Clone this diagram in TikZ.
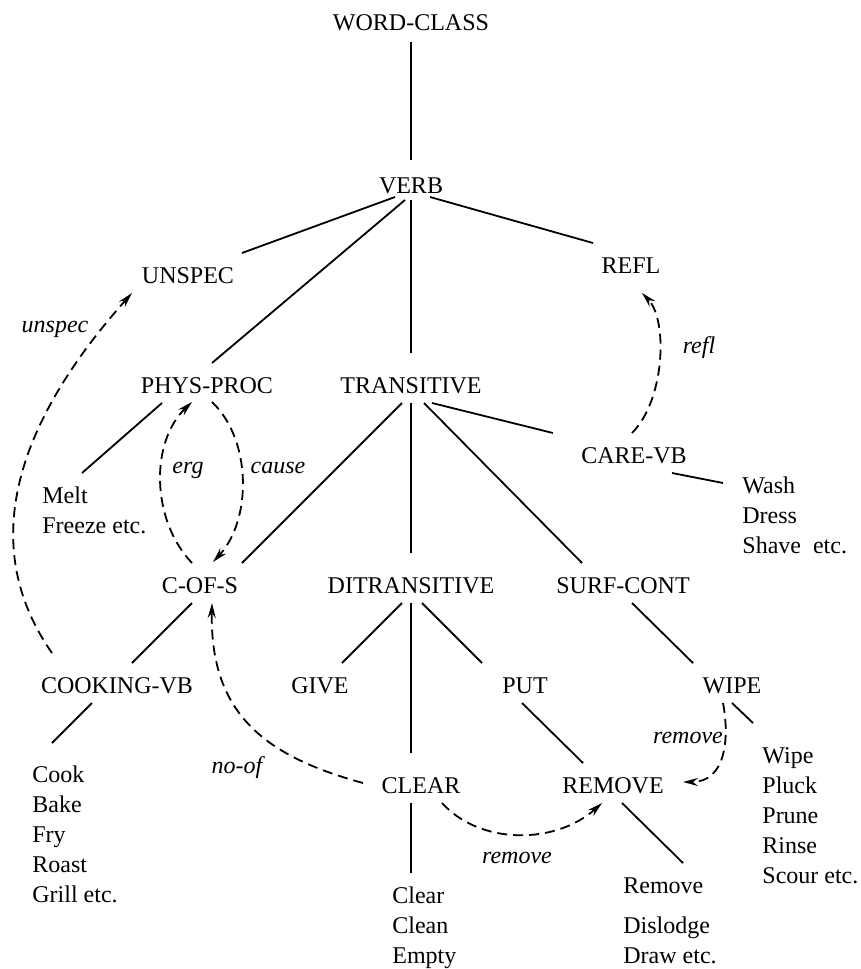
\documentclass[tikz,border=0pt]{standalone}
\usepackage{fontspec}
\setmainfont{Liberation Serif}
\usetikzlibrary{arrows.meta,calc}
\begin{document}
\begin{tikzpicture}[x=0.5pt,y=-0.5pt,
  cls/.style={font=\fontsize{12}{15}\selectfont, inner sep=0pt, anchor=base},
  item/.style={font=\fontsize{12}{15}\selectfont, inner sep=0pt, anchor=base west},
  rel/.style={font=\fontsize{12}{15}\selectfont\itshape, inner sep=0pt, anchor=base},
  edge/.style={line width=0.9pt},
  link/.style={line width=0.9pt, dash pattern=on 5pt off 3pt,
    -{Stealth[open,length=7.5pt,width=4pt,inset=2.5pt]}}]
\useasboundingbox (0,0) rectangle (861,969);

% class nodes
\node[cls] (wc) at (411,31) {WORD-CLASS};
\node[cls] (verb) at (411,193) {VERB};
\node[cls] (unspec) at (188,283) {UNSPEC};
\node[cls] (refl) at (631,273) {REFL};
\node[cls] (phys) at (207,393) {PHYS-PROC};
\node[cls] (trans) at (411,393) {TRANSITIVE};
\node[cls] (care) at (634,463) {CARE-VB};
\node[cls] (cofs) at (200,593) {C-OF-S};
\node[cls] (ditr) at (411,593) {DITRANSITIVE};
\node[cls] (surf) at (623,593) {SURF-CONT};
\node[cls] (cook) at (117,693) {COOKING-VB};
\node[cls] (give) at (320,693) {GIVE};
\node[cls] (put) at (525,693) {PUT};
\node[cls] (wipe) at (732,693) {WIPE};
\node[cls] (clear) at (421,793) {CLEAR};
\node[cls] (remove) at (613,793) {REMOVE};

% word lists
\node[item] (melt1) at (42,503) {Melt};
\node[item] (melt2) at (42,533) {Freeze etc.};
\node[item] (wash1) at (742,493) {Wash};
\node[item] (wash2) at (742,523) {Dress};
\node[item] (wash3) at (742,553) {Shave~~etc.};
\node[item] (cook1) at (32,782) {Cook};
\node[item] (cook2) at (32,812) {Bake};
\node[item] (cook3) at (32,842) {Fry};
\node[item] (cook4) at (32,872) {Roast};
\node[item] (cook5) at (32,902) {Grill etc.};
\node[item] (clear1) at (392,903) {Clear};
\node[item] (clear2) at (392,933) {Clean};
\node[item] (clear3) at (392,963) {Empty};
\node[item] (rem1) at (623,893) {Remove};
\node[item] (rem2) at (623,933) {Dislodge};
\node[item] (rem3) at (623,963) {Draw etc.};
\node[item] (wipe1) at (762,763) {Wipe};
\node[item] (wipe2) at (762,793) {Pluck};
\node[item] (wipe3) at (762,823) {Prune};
\node[item] (wipe4) at (762,853) {Rinse};
\node[item] (wipe5) at (762,883) {Scour etc.};

% hierarchy lines
\draw[edge] ($(wc.base)+(0,11)$) -- ($(verb.base)+(0,-33)$);
\draw[edge] ($(verb.base)+(-16,4)$) -- ($(unspec.base)+(54,-30)$);
\draw[edge] ($(verb.base)+(-6,7)$) -- ($(phys.base)+(5,-30)$);
\draw[edge] ($(verb.base)+(0,7)$) -- ($(trans.base)+(0,-40)$);
\draw[edge] ($(verb.base)+(19,4)$) -- ($(refl.base)+(-38,-30)$);
\draw[edge] ($(trans.base)+(21,10)$) -- ($(care.base)+(-81,-30)$);
\draw[edge] ($(trans.base)+(13,10)$) -- ($(surf.base)+(-41,-30)$);
\draw[edge] ($(trans.base)+(-9,10)$) -- ($(cofs.base)+(42,-30)$);
\draw[edge] ($(trans.base)+(0,10)$) -- ($(ditr.base)+(0,-40)$);
\draw[edge] ($(phys.base)+(-45,10)$) -- ($(melt1.base west)+(40,-30)$);
\draw[edge] ($(care.base)+(38,10)$) -- ($(wash1.base west)+(-19,-10)$);
\draw[edge] ($(cofs.base)+(-8,10)$) -- ($(cook.base)+(15,-30)$);
\draw[edge] ($(cook.base)+(-25,10)$) -- ($(cook1.base west)+(20,-39)$);
\draw[edge] ($(ditr.base)+(-9,10)$) -- ($(give.base)+(22,-30)$);
\draw[edge] ($(ditr.base)+(0,10)$) -- ($(clear.base)+(-10,-40)$);
\draw[edge] ($(ditr.base)+(11,10)$) -- ($(put.base)+(-43,-30)$);
\draw[edge] ($(surf.base)+(9,10)$) -- ($(wipe.base)+(-39,-30)$);
\draw[edge] ($(put.base)+(-3,10)$) -- ($(remove.base)+(-30,-30)$);
\draw[edge] ($(wipe.base)+(0,10)$) -- ($(wipe1.base west)+(-9,-40)$);
\draw[edge] ($(remove.base)+(9,10)$) -- ($(rem1.base west)+(60,-30)$);
\draw[edge] ($(clear.base)+(-10,10)$) -- ($(clear1.base west)+(19,-30)$);

% alternation links
\draw[link] ($(cook.base)+(-65,-40)$) .. controls +(-72,-103) and +(-122,137) .. ($(unspec.base)+(-56,10)$);
\draw[link] ($(cofs.base)+(-8,-30)$) .. controls +(-41,-43) and +(-42,40) .. ($(phys.base)+(-15,9)$);
\draw[link] ($(phys.base)+(5,9)$) .. controls +(40,38) and +(39,-42) .. ($(cofs.base)+(13,-31)$);
\draw[link] ($(care.base)+(-2,-30)$) .. controls +(33,-33) and +(26,27) .. ($(refl.base)+(11,20)$);
\draw[link] ($(clear.base)+(-58,-10)$) .. controls +(-103,-28) and +(-2,107) .. ($(cofs.base)+(12,10)$);
\draw[link] ($(clear.base)+(21,10)$) .. controls +(38,42) and +(-47,42) .. ($(remove.base)+(-11,10)$);
\draw[link] ($(wipe.base)+(-9,10)$) .. controls +(7,37) and +(42,0) .. ($(remove.base)+(70,-11)$);

% link labels
\node[rel] (lunspec) at (55,332) {unspec};
\node[rel] (lerg) at (188,473) {erg};
\node[rel] (lcause) at (278,473) {cause};
\node[rel] (lrefl) at (699,353) {refl};
\node[rel] (lnoof) at (237,773) {no-of};
\node[rel] (lrem1) at (517,863) {remove};
\node[rel] (lrem2) at (688,743) {remove};
\end{tikzpicture}
\end{document}
